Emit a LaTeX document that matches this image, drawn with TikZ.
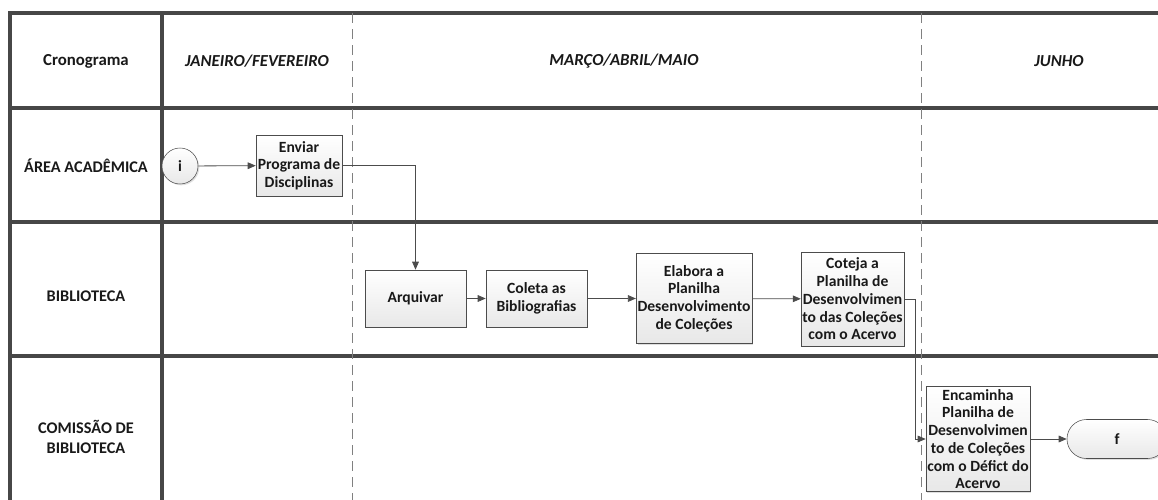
\documentclass[tikz,border=0pt]{standalone}
\usepackage{fontspec}
\setmainfont{Carlito}
\usetikzlibrary{arrows.meta,shadows}

\begin{document}
\begin{tikzpicture}[
	x=0.75pt, y=-0.75pt,
	font=\bfseries\fontsize{11.7}{13.3}\selectfont, text=black!90,
	lane/.style={draw=black!72, line width=2.3pt},
	month/.style={draw=black!50, dash pattern=on 7.5pt off 4.5pt, line width=0.6pt},
	header/.style={font=\bfseries\itshape\fontsize{12.6}{14}\selectfont},
	lanelabel/.style={align=center, font=\bfseries\fontsize{12.2}{15}\selectfont},
	task/.style={draw=black!70, top color=white, bottom color=black!9, align=center, inner sep=1pt,
		drop shadow={opacity=0.25, shadow xshift=1pt, shadow yshift=-1pt}},
	terminal/.style={task, rounded corners=14.6pt, minimum width=75pt, minimum height=29.25pt},
	flow/.style={draw=black!70, line width=0.6pt, -{Triangle[length=6pt,width=5pt]}},
]

\path[use as bounding box, clip] (0,0) rectangle (1158,500);

\begin{scope}[]
%%% LANES
\draw [lane] (10,500) -- (10,13) -- (1158,13);
\draw [lane] (10,108) -- (1158,108);
\draw [lane] (10,222) -- (1158,222);
\draw [lane] (10,356) -- (1158,356);
\draw [lane] (162,13) -- (162,500);

\draw [month] (352,13) -- (352,500);
\draw [month] (921,13) -- (921,500);

\node [font=\bfseries\fontsize{12.6}{14}\selectfont] (cron) at (86,61) {Cronograma};
\node [header] (jan) at (257,61) {JANEIRO/FEVEREIRO};
\node [header] (mar) at (624,61) {MARÇO/ABRIL/MAIO};
\node [header] (jun) at (1059,61) {JUNHO};

\node [lanelabel] (area) at (86,166) {ÁREA ACADÊMICA};
\node [lanelabel] (bib) at (86,296) {BIBLIOTECA};
\node [lanelabel] (com) at (86,437) {COMISSÃO DE\\BIBLIOTECA};
\end{scope}

\begin{scope}[]
%%% TASKS
\node [task, circle, minimum size=27pt, inner sep=0pt] (ini) at (180,166) {i};
\node [task, minimum width=64.5pt, minimum height=45.75pt] (enviar) at (299,165.5)
	{Enviar\\Programa de\\Disciplinas};

\node [task, minimum width=75.75pt, minimum height=42.75pt] (arquivar) at (415.5,298.5) {Arquivar};
\node [task, minimum width=75.75pt, minimum height=42.75pt] (coleta) at (536.5,298.5)
	{Coleta as\\Bibliografias};
\node [task, minimum width=85.5pt, minimum height=67.5pt] (elabora) at (694,298.5)
	{Elabora a\\Planilha\\Desenvolvimento\\de Coleções};
\node [task, minimum width=75.75pt, minimum height=70.5pt] (coteja) at (852.5,299)
	{Coteja a\\Planilha de\\Desenvolvimen\\to das Coleções\\com o Acervo};

\node [task, minimum width=76.5pt, minimum height=78.75pt] (encaminha) at (978,439)
	{Encaminha\\Planilha de\\Desenvolvimen\\to de Coleções\\com o Défict do\\Acervo};
\node [terminal] (fim) at (1117,439) {f};
\end{scope}

%%% FLOW
\draw [flow] (ini) -- (enviar);
\draw [flow] (enviar.east) -| (arquivar.north);
\draw [flow] (arquivar) -- (coleta);
\draw [flow] (coleta) -- (elabora);
\draw [flow] (elabora) -- (coteja);
\draw [flow] (coteja.east) -- ++(11,0) |- (encaminha.west);
\draw [flow] (encaminha) -- (fim);

\end{tikzpicture}
\end{document}
